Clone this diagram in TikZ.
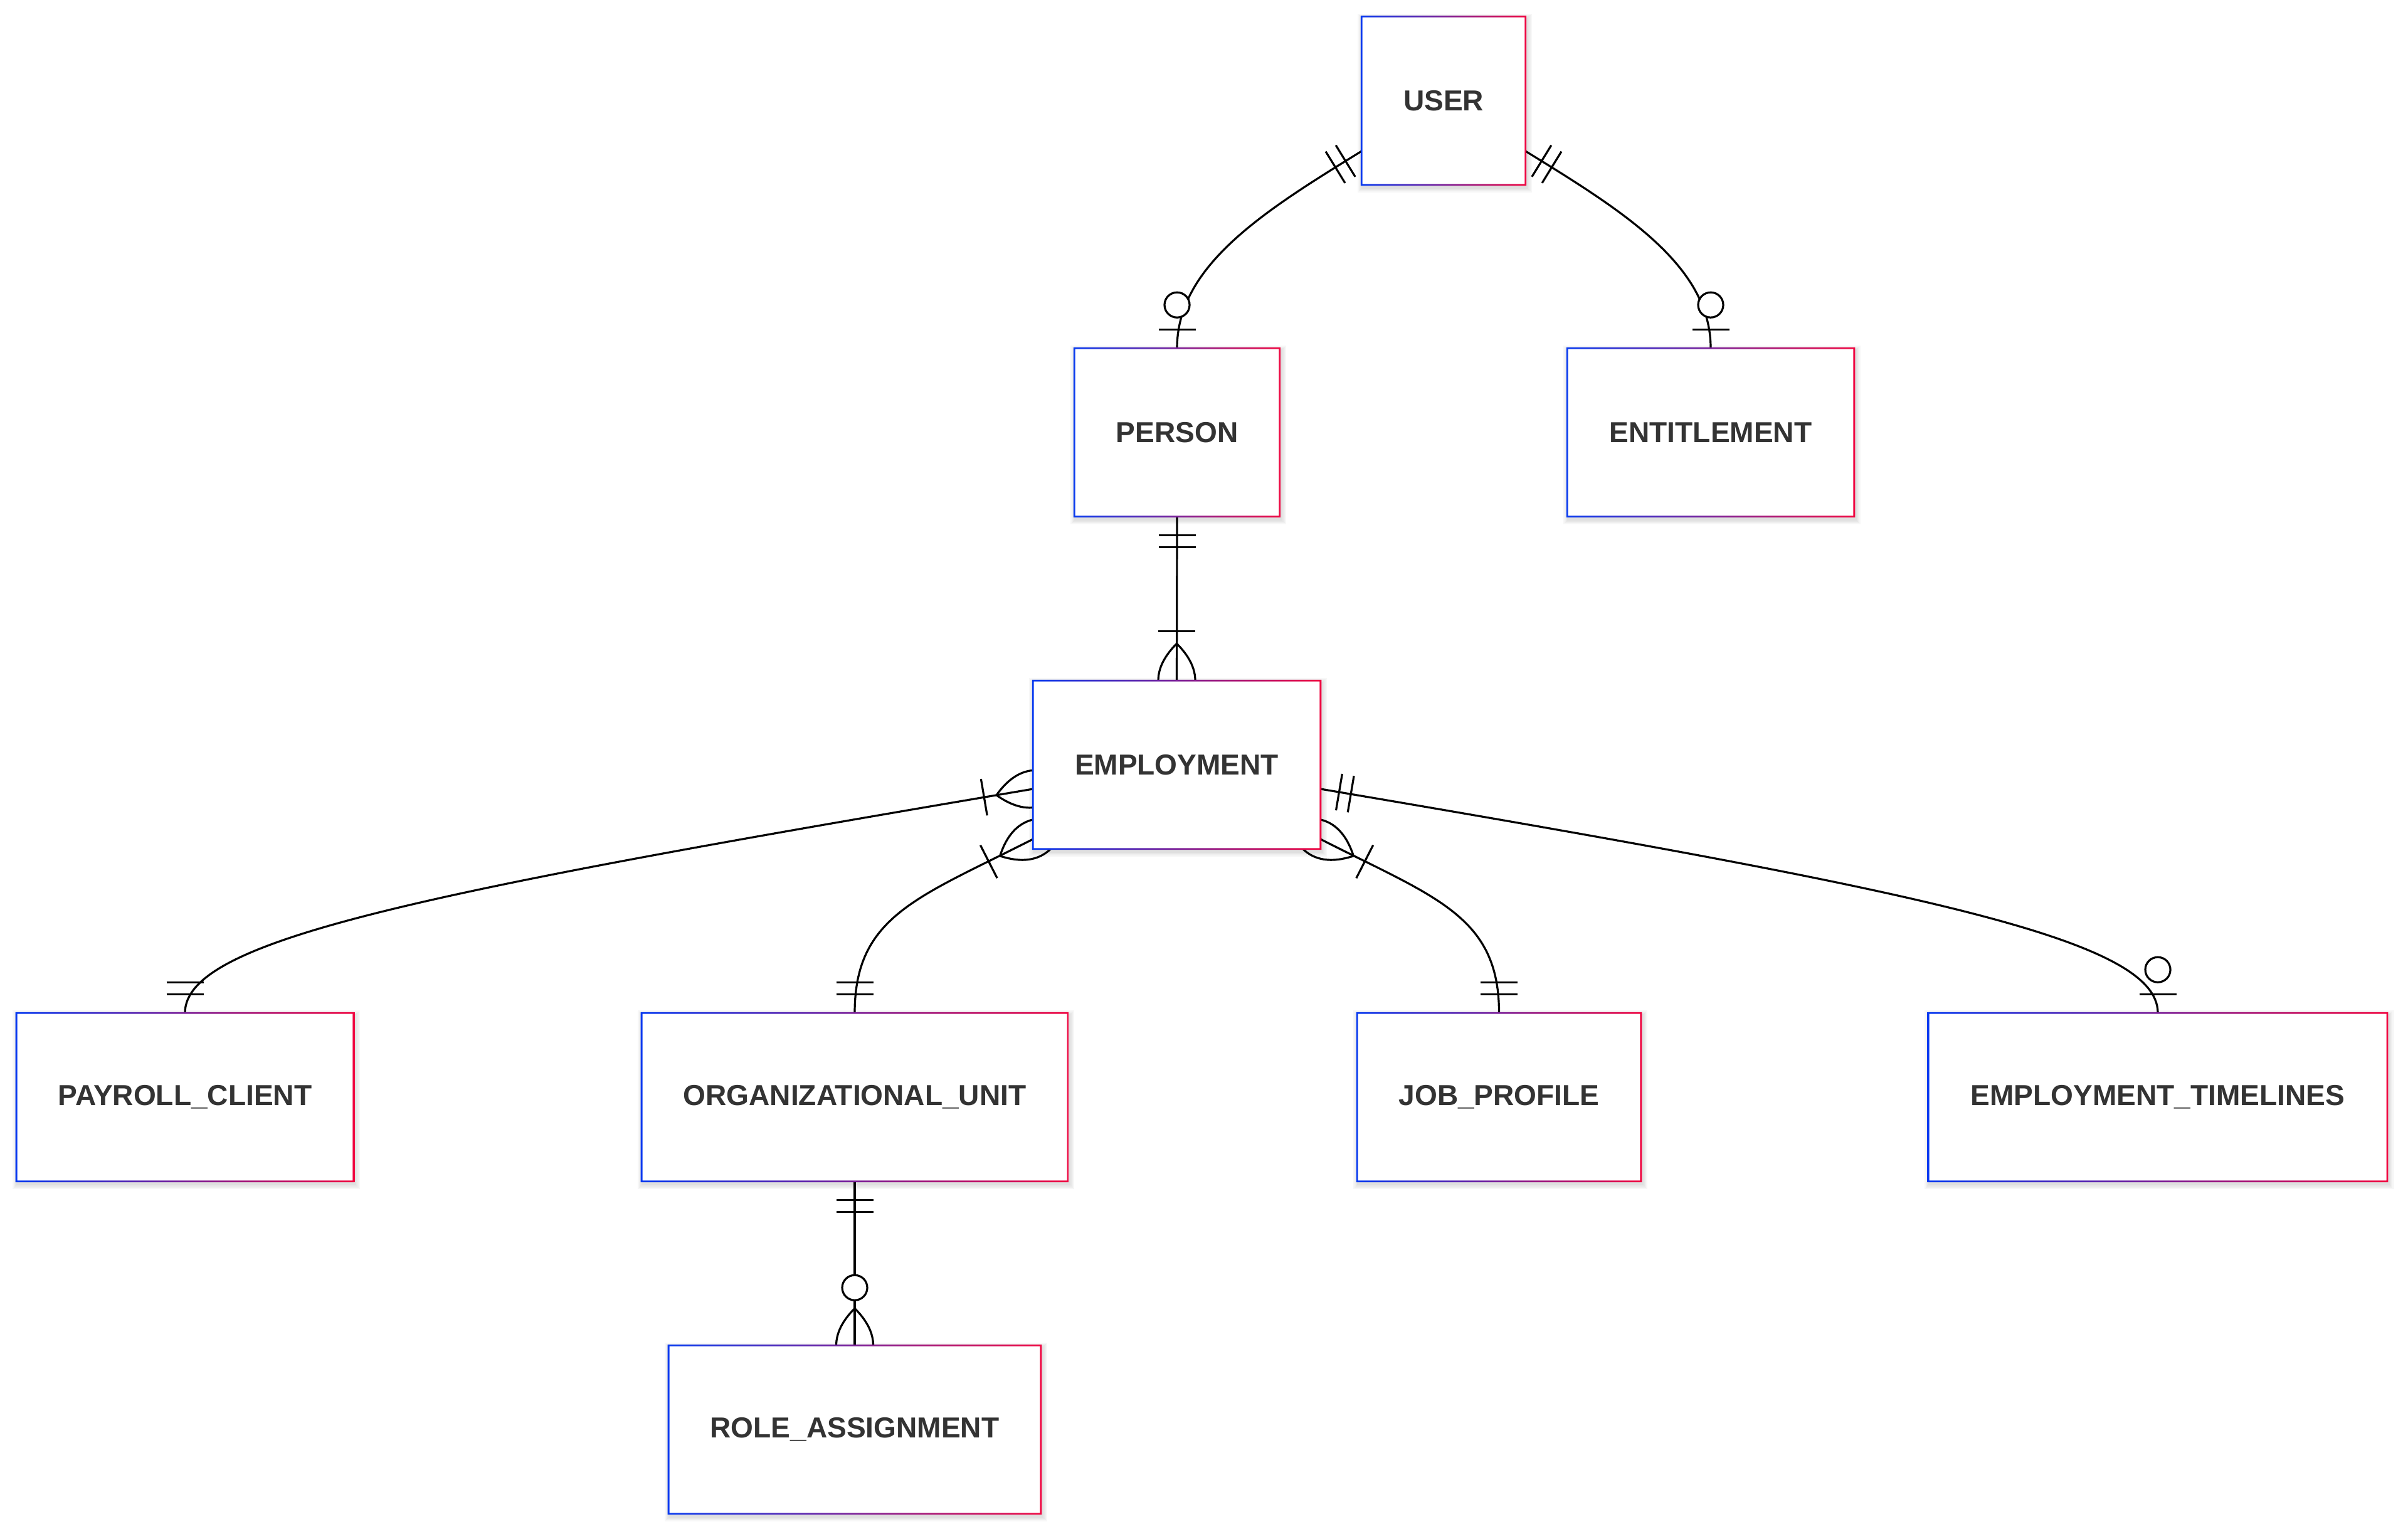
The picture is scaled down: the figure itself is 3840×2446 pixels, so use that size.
\documentclass[tikz,border=0pt]{standalone}
\usepackage{fontspec}
\setmainfont{Liberation Sans}
\usetikzlibrary{calc}
\definecolor{eblue}{RGB}{8,58,240}
\definecolor{ered}{RGB}{240,8,66}
\definecolor{txt}{HTML}{333333}
\pgfdeclarelayer{bgfill}
\pgfdeclarelayer{shadowl}
\pgfdeclarelayer{bg}
\pgfsetlayers{bgfill,shadowl,bg,main}
\tikzset{
  conn/.style={line width=0.91pt, black},
  entity/.style={rectangle, fill=white, inner sep=0pt, minimum height=2.67cm, text=txt,
    font=\fontsize{13.1pt}{15pt}\selectfont\bfseries},
  pics/onlyone/.style={code={\draw[conn] (30,-29.5) -- (30,29.5) (49,-29.5) -- (49,29.5);}},
  pics/zeroorone/.style={code={\draw[conn] (30,-29.5) -- (30,29.5);
      \draw[conn, fill=white] (69,0) circle[radius=0.2cm];}},
  pics/oneormore/.style={code={\draw[conn] (59,0) .. controls (19.7,39.3) and (-19.7,39.3) .. (-59,0)
      .. controls (-19.7,-39.3) and (19.7,-39.3) .. (59,0);
      \draw[conn] (79,-29.5) -- (79,29.5);}},
  pics/zeroormore/.style={code={\draw[conn] (59,0) .. controls (19.7,39.3) and (-19.7,39.3) .. (-59,0)
      .. controls (-19.7,-39.3) and (19.7,-39.3) .. (59,0);
      \draw[conn, fill=white] (92,0) circle[radius=0.2cm];}},
}
\begin{document}
\begin{tikzpicture}[x=0.01cm, y=-0.01cm]
\useasboundingbox (0,0) rectangle (3840,2446);
\begin{pgfonlayer}{bgfill}
\fill[white] (0,0) rectangle (3840,2446);
\end{pgfonlayer}

% entities
\node[entity, minimum width=2.60cm] (user) at (2302,160.5) {USER};
\node[entity, minimum width=3.26cm] (person) at (1877,689.5) {PERSON};
\node[entity, minimum width=4.56cm] (entitlement) at (2728,689.5) {ENTITLEMENT};
\node[entity, minimum width=4.57cm] (employment) at (1876.5,1219.5) {EMPLOYMENT};
\node[entity, minimum width=5.36cm] (payroll) at (295,1749.5) {PAYROLL\_CLIENT};
\node[entity, minimum width=6.78cm] (org) at (1363,1749.5) {ORGANIZATIONAL\_UNIT};
\node[entity, minimum width=4.51cm] (job) at (2390.5,1749.5) {JOB\_PROFILE};
\node[entity, minimum width=7.30cm] (emptl) at (3441,1749.5) {EMPLOYMENT\_TIMELINES};
\node[entity, minimum width=5.92cm] (role) at (1363,2279.5) {ROLE\_ASSIGNMENT};

% gradient frames
\foreach \n in {user,person,entitlement,employment,payroll,org,job,emptl,role} {
  \path[left color=eblue, right color=ered, even odd rule]
    ([shift={(-0.4pt,-0.4pt)}]\n.south west) rectangle ([shift={(0.4pt,0.4pt)}]\n.north east)
    ([shift={(0.4pt,0.4pt)}]\n.south west) rectangle ([shift={(-0.4pt,-0.4pt)}]\n.north east);
}

% shadows
\begin{pgfonlayer}{shadowl}
\foreach \n in {user,person,entitlement,employment,payroll,org,job,emptl,role} {
  \foreach \d in {1,2,3,4} {
    \fill[black, opacity=0.03]
      ([shift={(-\d*0.6pt+0.6pt,-\d*0.6pt-1.2pt)}]\n.south west) rectangle
      ([shift={(\d*0.6pt+0.6pt,\d*0.6pt-1.2pt)}]\n.north east);
  }
}
\end{pgfonlayer}

% connectors
\begin{pgfonlayer}{bg}
\draw[conn] ([yshift=-0.805cm]user.west) .. controls +(211.6:1.82cm) and +(90:1.32cm) .. (person.north);
\draw[conn] ([yshift=-0.805cm]user.east) .. controls +(-31.6:1.82cm) and +(90:1.32cm) .. (entitlement.north);
\draw[conn] (person.south) -- (employment.north);
\draw[conn] ([yshift=-0.385cm]employment.west) .. controls +(189.6:10cm) and +(90:1.16cm) .. (payroll.north);
\draw[conn] ([yshift=-1.185cm]employment.west) .. controls +(207:2.05cm) and +(90:1.55cm) .. (org.north);
\draw[conn] ([yshift=-1.185cm]employment.east) .. controls +(-27:2.05cm) and +(90:1.55cm) .. (job.north);
\draw[conn] ([yshift=-0.385cm]employment.east) .. controls +(-9.6:9.9cm) and +(90:1.16cm) .. (emptl.north);
\draw[conn] (org.south) -- (role.north);

% markers
\pic[rotate=211.6] at ([yshift=-0.805cm]user.west) {onlyone};
\pic[rotate=90] at (person.north) {zeroorone};
\pic[rotate=-31.6] at ([yshift=-0.805cm]user.east) {onlyone};
\pic[rotate=90] at (entitlement.north) {zeroorone};
\pic[rotate=-90] at (person.south) {onlyone};
\pic[rotate=90] at (employment.north) {oneormore};
\pic[rotate=189.6] at ([yshift=-0.385cm]employment.west) {oneormore};
\pic[rotate=90] at (payroll.north) {onlyone};
\pic[rotate=207] at ([yshift=-1.185cm]employment.west) {oneormore};
\pic[rotate=90] at (org.north) {onlyone};
\pic[rotate=-27] at ([yshift=-1.185cm]employment.east) {oneormore};
\pic[rotate=90] at (job.north) {onlyone};
\pic[rotate=-9.6] at ([yshift=-0.385cm]employment.east) {onlyone};
\pic[rotate=90] at (emptl.north) {zeroorone};
\pic[rotate=-90] at (org.south) {onlyone};
\pic[rotate=90] at (role.north) {zeroormore};
\end{pgfonlayer}
\end{tikzpicture}
\end{document}
